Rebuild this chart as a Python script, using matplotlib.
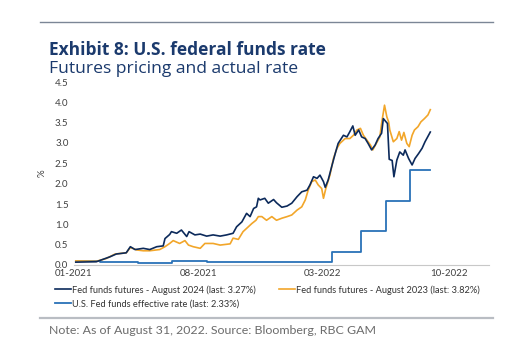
import numpy as np
import pandas as pd
import matplotlib
matplotlib.use('Agg')
import matplotlib.pyplot as plt
from matplotlib.lines import Line2D

plt.rcParams['font.family'] = ['Lato', 'DejaVu Sans']

# Ф'ючерси на ставку - серпень 2024
dates_2024 = ['2021-01-04', '2021-02-08', '2021-03-03', '2021-03-14', '2021-03-31', '2021-04-07',
              '2021-04-15', '2021-04-29', '2021-05-10', '2021-05-22', '2021-06-02', '2021-06-05',
              '2021-06-13', '2021-06-16', '2021-06-25', '2021-07-03', '2021-07-12', '2021-07-16',
              '2021-07-26', '2021-08-04', '2021-08-15', '2021-08-26', '2021-09-07', '2021-09-18',
              '2021-09-29', '2021-10-05', '2021-10-14', '2021-10-22', '2021-10-28', '2021-11-03',
              '2021-11-08', '2021-11-11', '2021-11-14', '2021-11-22', '2021-11-28', '2021-12-07',
              '2021-12-12', '2021-12-21', '2021-12-30', '2022-01-07', '2022-01-16', '2022-01-24',
              '2022-02-02', '2022-02-07', '2022-02-13', '2022-02-19', '2022-02-24', '2022-03-02',
              '2022-03-05', '2022-03-10', '2022-03-16', '2022-03-22', '2022-03-27', '2022-04-05',
              '2022-04-11', '2022-04-16', '2022-04-21', '2022-04-25', '2022-05-01', '2022-05-06',
              '2022-05-12', '2022-05-17', '2022-05-23', '2022-05-29', '2022-06-03', '2022-06-09',
              '2022-06-12', '2022-06-19', '2022-06-22', '2022-06-27', '2022-06-30', '2022-07-05',
              '2022-07-10', '2022-07-16', '2022-07-19', '2022-07-25', '2022-07-31', '2022-08-05',
              '2022-08-11', '2022-08-17', '2022-08-22', '2022-08-31']
values_2024 = [0.07, 0.08, 0.20, 0.27, 0.30, 0.45,
               0.38, 0.41, 0.38, 0.45, 0.47, 0.65,
               0.75, 0.82, 0.78, 0.86, 0.70, 0.82,
               0.74, 0.76, 0.71, 0.74, 0.71, 0.74,
               0.78, 0.94, 1.06, 1.27, 1.19, 1.39,
               1.43, 1.64, 1.60, 1.64, 1.52, 1.61,
               1.53, 1.42, 1.45, 1.52, 1.68, 1.80,
               1.84, 1.97, 2.17, 2.13, 2.21, 2.05,
               1.91, 2.09, 2.42, 2.74, 2.99, 3.19,
               3.15, 3.28, 3.42, 3.19, 3.32, 3.15,
               3.11, 2.99, 2.83, 2.95, 3.11, 3.24,
               3.60, 3.48, 2.60, 2.57, 2.17, 2.58,
               2.78, 2.70, 2.83, 2.62, 2.46, 2.62,
               2.74, 2.87, 3.03, 3.27]

# Ф'ючерси на ставку - серпень 2023
dates_2023 = ['2021-01-04', '2021-02-08', '2021-02-25', '2021-03-12', '2021-03-31', '2021-04-07',
              '2021-04-18', '2021-04-29', '2021-05-10', '2021-05-27', '2021-06-05', '2021-06-13',
              '2021-06-19', '2021-06-30', '2021-07-09', '2021-07-15', '2021-07-23', '2021-08-04',
              '2021-08-12', '2021-08-26', '2021-09-07', '2021-09-24', '2021-09-29', '2021-10-08',
              '2021-10-16', '2021-10-25', '2021-10-31', '2021-11-07', '2021-11-11', '2021-11-17',
              '2021-11-25', '2021-12-04', '2021-12-12', '2021-12-21', '2021-12-30', '2022-01-07',
              '2022-01-16', '2022-01-24', '2022-01-30', '2022-02-04', '2022-02-10', '2022-02-16',
              '2022-02-21', '2022-02-27', '2022-03-02', '2022-03-06', '2022-03-13', '2022-03-19',
              '2022-03-25', '2022-03-30', '2022-04-08', '2022-04-16', '2022-04-22', '2022-04-28',
              '2022-05-04', '2022-05-09', '2022-05-15', '2022-05-21', '2022-05-25', '2022-05-31',
              '2022-06-06', '2022-06-09', '2022-06-14', '2022-06-18', '2022-06-21', '2022-06-23',
              '2022-06-29', '2022-07-05', '2022-07-09', '2022-07-13', '2022-07-17', '2022-07-22',
              '2022-07-26', '2022-07-31', '2022-08-04', '2022-08-10', '2022-08-15', '2022-08-21',
              '2022-08-27', '2022-08-31']
values_2023 = [0.10, 0.09, 0.16, 0.27, 0.30, 0.43,
               0.37, 0.35, 0.35, 0.38, 0.45, 0.53,
               0.60, 0.53, 0.60, 0.49, 0.45, 0.41,
               0.53, 0.53, 0.49, 0.52, 0.66, 0.63,
               0.82, 0.94, 1.02, 1.10, 1.19, 1.19,
               1.10, 1.19, 1.10, 1.15, 1.19, 1.23,
               1.35, 1.43, 1.60, 1.84, 2.05, 2.09,
               1.97, 1.88, 1.64, 1.88, 2.21, 2.62,
               2.87, 2.99, 3.11, 3.11, 3.19, 3.32,
               3.36, 3.19, 3.07, 2.95, 2.83, 2.99,
               3.15, 3.48, 3.93, 3.64, 3.52, 3.32,
               3.03, 3.11, 3.28, 3.07, 3.26, 2.99,
               2.91, 3.19, 3.32, 3.40, 3.52, 3.60,
               3.69, 3.82]

# Ефективна ставка ФРС
dates_eff = ['2021-01-04', '2021-02-15', '2021-03-20', '2021-04-20', '2021-06-17', '2021-08-15',
             '2022-03-17', '2022-05-05', '2022-06-16', '2022-07-28', '2022-08-31']
values_eff = [0.09, 0.08, 0.07, 0.05, 0.10, 0.08, 0.33, 0.83, 1.58, 2.33, 2.33]

labels = ['Fed funds futures - August 2024 (last: 3.27%)',
          'Fed funds futures - August 2023 (last: 3.82%)',
          'U.S. Fed funds effective rate (last: 2.33%)']
tick_dates = ['2021-01-01', '2021-08-01', '2022-03-01', '2022-10-01']
tick_labels = ['01-2021', '08-2021', '03-2022', '10-2022']

navy = '#0c2a5b'
orange = '#f2a62a'
blue = '#2a72b8'
title_col = '#1b3a6d'

fig = plt.figure(figsize=(5.12, 3.5), dpi=100)
ax = fig.add_axes([74 / 512, 1 - 265 / 350, 415 / 512, 183 / 350])

l_eff, = ax.plot(pd.to_datetime(dates_eff), values_eff, color=blue, lw=1.3, drawstyle='steps-post')
l23, = ax.plot(pd.to_datetime(dates_2023), values_2023, color=orange, lw=1.2)
l24, = ax.plot(pd.to_datetime(dates_2024), values_2024, color=navy, lw=1.2)

ax.set_xlim(pd.Timestamp('2021-01-01'), pd.Timestamp('2022-12-09'))
ax.set_ylim(0, 4.5)
ax.set_yticks(np.arange(0, 4.51, 0.5))
ax.set_yticklabels(['%.1f' % v for v in np.arange(0, 4.51, 0.5)])
ax.set_xticks(pd.to_datetime(tick_dates))
ax.set_xticklabels(tick_labels)
ax.tick_params(axis='both', length=0, labelsize=7, colors='#404040')
ax.tick_params(axis='y', pad=4)
ax.tick_params(axis='x', pad=3)
for s in ['top', 'right', 'left']:
    ax.spines[s].set_visible(False)
ax.spines['bottom'].set_color('#c8c8c8')
ax.spines['bottom'].set_linewidth(0.8)
ax.set_ylabel('%', fontsize=7, color='#404040', labelpad=6)

# Заголовки
fig.text(49 / 512, 1 - 55 / 350, 'Exhibit 8: U.S. federal funds rate', fontsize=12.5,
         fontweight='bold', color=title_col, va='baseline', family=['Open Sans', 'DejaVu Sans'])
fig.text(49 / 512, 1 - 73 / 350, 'Futures pricing and actual rate', fontsize=12.6,
         color=title_col, va='baseline', family=['Open Sans', 'DejaVu Sans'])

# Лінії-розділювачі
fig.add_artist(Line2D([40 / 512, 493 / 512], [1 - 22 / 350, 1 - 22 / 350], color='#7b8696', lw=1.0))
fig.add_artist(Line2D([40 / 512, 493 / 512], [1 - 318 / 350, 1 - 318 / 350], color='#b9bdc3', lw=1.6))

fig.legend([l24, l_eff, l23], [labels[0], labels[2], labels[1]], ncol=2, loc='upper left',
           bbox_to_anchor=(55 / 512, 1 - 285 / 350), frameon=False, fontsize=6.7,
           handlelength=1.7, handletextpad=0.15, columnspacing=2.5, labelspacing=0.5,
           labelcolor='#333333', borderaxespad=0, borderpad=0)

fig.text(49 / 512, 1 - 334 / 350, 'Note: As of August 31, 2022. Source: Bloomberg, RBC GAM',
         fontsize=8.9, color='#6b6b6b', va='baseline')

fig.savefig('out.png', dpi=100)
